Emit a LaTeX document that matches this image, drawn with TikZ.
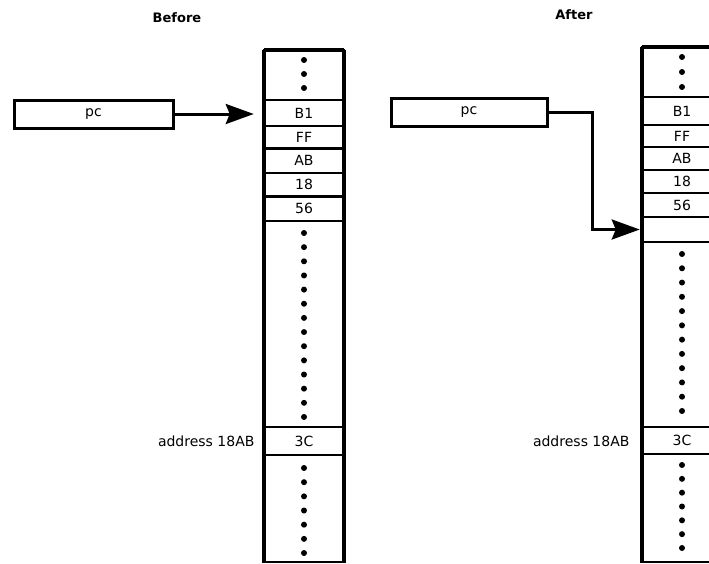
\documentclass[tikz,border=0pt]{standalone}
\usepackage{fontspec}
\setmainfont{DejaVu Sans}
\usetikzlibrary{arrows.meta}
\begin{document}
\begin{tikzpicture}[x=1pt,y=-1pt,
  txt/.style={font=\fontsize{14}{16}\selectfont},
  ttl/.style={font=\fontsize{13}{15}\selectfont\bfseries},
  cell/.style={draw,line width=2.5pt,minimum width=80pt,inner sep=0pt,anchor=center,txt},
  regbox/.style={draw,line width=3pt,inner sep=0pt,txt},
  outer/.style={line width=3.5pt},
  memdot/.style={fill=black},
  ptr/.style={line width=3pt,-{Stealth[length=28pt,width=20pt,inset=4pt]}}]
\useasboundingbox (0,0) rectangle (709,563);

% titles
\node[ttl] (tb) at (177,18) {Before};
\node[ttl] (ta) at (574,15) {After};

% ---------- Before ----------
\node[regbox,minimum width=159pt,minimum height=28pt] (pcL) at (93.5,114) {pc};
\node[cell,minimum height=50pt]  (Ltop) at (304,75) {};
\node[cell,minimum height=26pt]  (Lb1)  at (304,113) {B1};
\node[cell,minimum height=22.5pt](Lff)  at (304,137.25) {FF};
\node[cell,minimum height=24.5pt](Lab)  at (304,160.75) {AB};
\node[cell,minimum height=23.5pt](L18)  at (304,184.75) {18};
\node[cell,minimum height=24.5pt](L56)  at (304,208.75) {56};
\node[cell,minimum height=206pt] (Lmid) at (304,324) {};
\node[cell,minimum height=28pt]  (L3c)  at (304,441) {3C};
\node[cell,minimum height=107pt] (Lbot) at (304,508.5) {};
\draw[outer] (264,50) -- (344,50);
\draw[outer] (264,50) -- (264,563);
\draw[outer] (344,50) -- (344,563);
\foreach \y in {60,74,88} \fill[memdot] (304,\y) circle (3pt);
\foreach \i in {0,...,13} \fill[memdot] (304,233+\i*14.15) circle (3pt);
\foreach \i in {0,...,6} \fill[memdot] (304,468+\i*14.17) circle (3pt);
\node[txt,anchor=east] (laddr) at (258,441) {address 18AB};
\draw[ptr,shorten >=9pt] (pcL.east) -- (pcL.east -| Lb1.west);

% ---------- After ----------
\node[regbox,minimum width=156pt,minimum height=28pt] (pcR) at (469,112) {pc};
\node[cell,minimum height=50pt]  (Rtop) at (682,72) {};
\node[cell,minimum height=28pt]  (Rb1)  at (682,111) {B1};
\node[cell,minimum height=22pt]  (Rff)  at (682,136) {FF};
\node[cell,minimum height=23pt]  (Rab)  at (682,158.5) {AB};
\node[cell,minimum height=23pt]  (R18)  at (682,181.5) {18};
\node[cell,minimum height=24pt]  (R56)  at (682,205) {56};
\node[cell,minimum height=25pt]  (Rnew) at (682,229.5) {};
\node[cell,minimum height=185pt] (Rmid) at (682,334.5) {};
\node[cell,minimum height=27pt]  (R3c)  at (682,440.5) {3C};
\node[cell,minimum height=108pt] (Rbot) at (682,508) {};
\draw[outer] (642,47) -- (722,47);
\draw[outer] (642,47) -- (642,563);
\foreach \y in {57,72,87} \fill[memdot] (682,\y) circle (3pt);
\foreach \i in {0,...,11} \fill[memdot] (682,254+\i*14.27) circle (3pt);
\foreach \i in {0,...,6} \fill[memdot] (682,465+\i*13.83) circle (3pt);
\node[txt,anchor=east] (raddr) at (633,441) {address 18AB};
\coordinate (bend) at (592,112);
\draw[ptr,shorten >=1pt] (pcR.east) -- (bend) |- (Rnew.west);
\end{tikzpicture}
\end{document}
